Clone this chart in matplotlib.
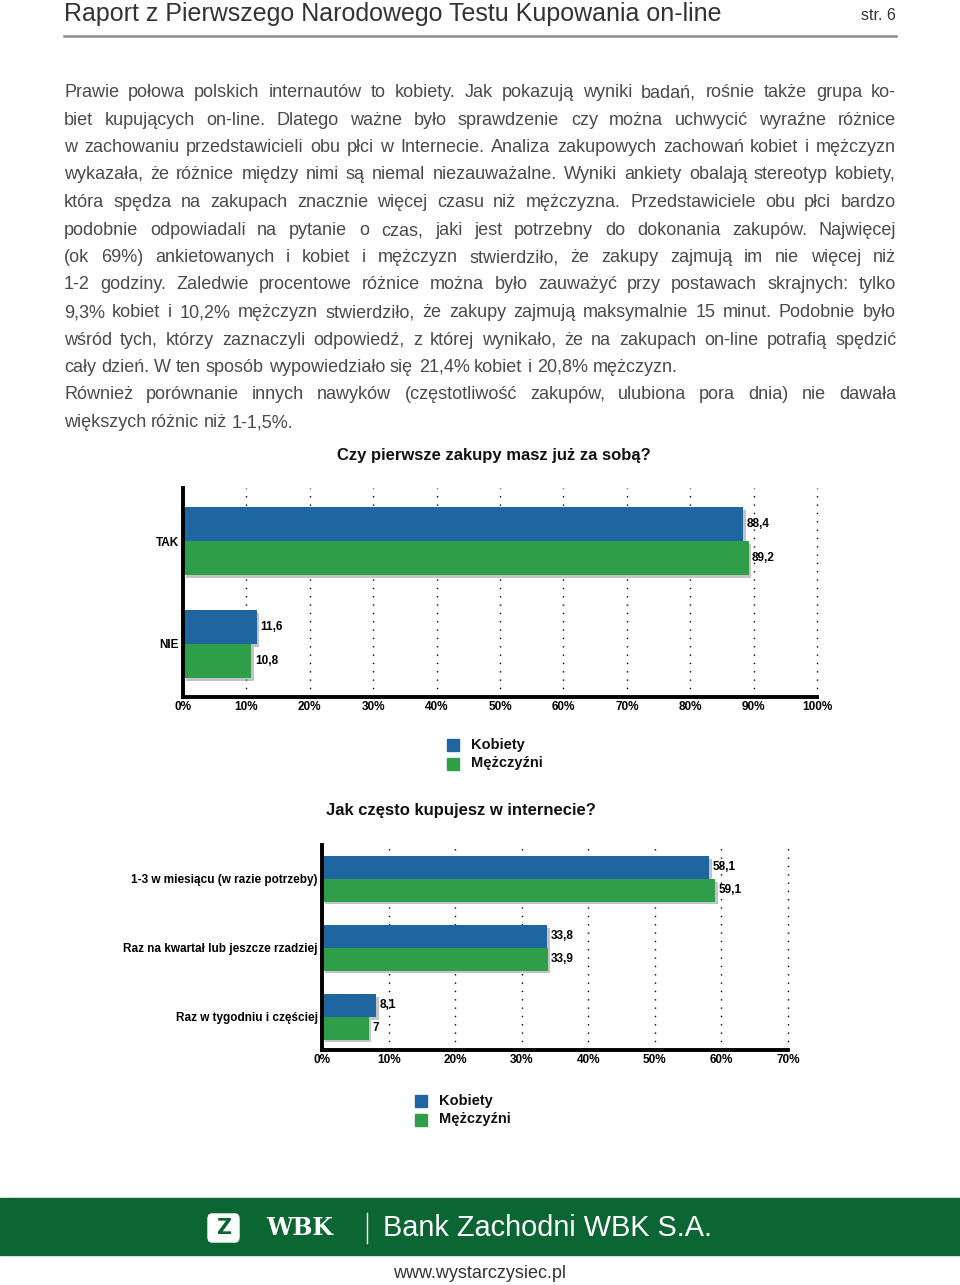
import matplotlib
matplotlib.use("Agg")
import matplotlib.pyplot as plt
import matplotlib.patheffects as pe
from matplotlib.patches import Rectangle, FancyBboxPatch
from matplotlib.lines import Line2D

W, H = 960, 1285

# --- data ---
series = ["Kobiety", "Mężczyźni"]
colors = ["#1f66a0", "#2f9e48"]

q1_title = "Czy pierwsze zakupy masz już za sobą?"
q1_categories = ["TAK", "NIE"]
q1_kobiety = [88.4, 11.6]
q1_mezczyzni = [89.2, 10.8]

q2_title = "Jak często kupujesz w internecie?"
q2_categories = ["1-3 w miesiącu (w razie potrzeby)", "Raz na kwartał lub jeszcze rzadziej",
                 "Raz w tygodniu i częściej"]
q2_kobiety = [58.1, 33.8, 8.1]
q2_mezczyzni = [59.1, 33.9, 7.0]

header = "Raport z Pierwszego Narodowego Testu Kupowania on-line"
page = "str. 6"

# (text, justified?)
paragraph = [
    ("Prawie połowa polskich internautów to kobiety. Jak pokazują wyniki badań, rośnie także grupa ko-", True),
    ("biet kupujących on-line. Dlatego ważne było sprawdzenie czy można uchwycić wyraźne różnice", True),
    ("w zachowaniu przedstawicieli obu płci w Internecie. Analiza zakupowych zachowań kobiet i mężczyzn", True),
    ("wykazała, że różnice między nimi są niemal niezauważalne. Wyniki ankiety obalają stereotyp kobiety,", True),
    ("która spędza na zakupach znacznie więcej czasu niż mężczyzna. Przedstawiciele obu płci bardzo", True),
    ("podobnie odpowiadali na pytanie o czas, jaki jest potrzebny do dokonania zakupów. Najwięcej", True),
    ("(ok 69%) ankietowanych i kobiet i mężczyzn stwierdziło, że zakupy zajmują im nie więcej niż", True),
    ("1-2 godziny. Zaledwie procentowe różnice można było zauważyć przy postawach skrajnych: tylko", True),
    ("9,3% kobiet i 10,2% mężczyzn stwierdziło, że zakupy zajmują maksymalnie 15 minut. Podobnie było", True),
    ("wśród tych, którzy zaznaczyli odpowiedź, z której wynikało, że na zakupach on-line potrafią spędzić", True),
    ("cały dzień. W ten sposób wypowiedziało się 21,4% kobiet i 20,8% mężczyzn.", False),
    ("Również porównanie innych nawyków (częstotliwość zakupów, ulubiona pora dnia) nie dawała", True),
    ("większych różnic niż 1-1,5%.", False),
]

BODY_FONT = "Liberation Sans"
SANS = "Liberation Sans"
BODY_SIZE = 13.0


def fx(px):
    return px / W


def fy(py):
    return 1 - py / H


fig = plt.figure(figsize=(W / 100, H / 100), dpi=100)
renderer = fig.canvas.get_renderer()


def text_width(s):
    t = fig.text(0, 0, s, family=BODY_FONT, fontsize=BODY_SIZE)
    w = t.get_window_extent(renderer).width
    t.remove()
    return w


# header
fig.text(fx(64), fy(14), header, family=SANS, fontsize=18, color="#333333",
         va="center", ha="left")
fig.text(fx(896), fy(16), page, family=SANS, fontsize=11.5, color="#333333",
         va="center", ha="right")
fig.add_artist(Line2D([fx(64), fx(896)], [fy(36), fy(36)], color="#8a8a8a", lw=1.8))

# body text, justified: one Text per word, all on a whole-pixel baseline
x0, x1 = 64, 896
space_w = text_width("a a") - text_width("aa")
y = 91
for line, justify in paragraph:
    words = line.split(" ")
    base_y = round(H - (y + 6)) / H
    texts = [fig.text(0, base_y, w, family=BODY_FONT, fontsize=BODY_SIZE,
                      color="#4a4a4a", va="baseline", ha="left") for w in words]
    widths = [t.get_window_extent(renderer).width for t in texts]
    if justify and len(words) > 1:
        gap = (x1 - x0 - sum(widths)) / (len(words) - 1)
    else:
        gap = space_w
    x = x0
    for t, w in zip(texts, widths):
        t.set_x(round(x) / W)
        x += w + gap
    y += 27.5

shadow = [pe.SimplePatchShadow(offset=(2, -2), shadow_rgbFace="#888888", alpha=0.5), pe.Normal()]


def bar_chart(box, title, title_xy, cats, vals_k, vals_m, xmax, bar_h, ylim, legend_xy):
    left, top, right, bottom = box
    ax = fig.add_axes([fx(left), fy(bottom), (right - left) / W, (bottom - top) / H])
    pos = list(range(len(cats)))
    for vals, off, col in ((vals_k, -bar_h / 2, colors[0]), (vals_m, bar_h / 2, colors[1])):
        bars = ax.barh([p + off for p in pos], vals, height=bar_h, color=col, zorder=3)
        for b, v in zip(bars, vals):
            b.set_path_effects(shadow)
            ax.annotate(f"{v:g}".replace(".", ","), (v, b.get_y() + b.get_height() / 2),
                        xytext=(2.5, 0), textcoords="offset points", va="center", ha="left",
                        family=SANS, fontweight="bold", fontsize=8.5, zorder=4)
    ax.set_xlim(0, xmax)
    ax.set_ylim(*ylim)
    ax.set_xticks(range(0, xmax + 1, 10))
    ax.set_xticklabels([f"{v}%" for v in range(0, xmax + 1, 10)], family=SANS,
                       fontweight="bold", fontsize=8.5)
    ax.set_yticks(pos)
    ax.set_yticklabels(cats, family=SANS, fontweight="bold", fontsize=8.5)
    ax.tick_params(length=0, pad=3)
    ax.grid(axis="x", color="black", linestyle=(0, (1, 5)), linewidth=1.0, zorder=1)
    for gl in ax.get_xgridlines():
        gl.set_clip_on(False)
    for s in ("top", "right"):
        ax.spines[s].set_visible(False)
    for s in ("left", "bottom"):
        ax.spines[s].set_linewidth(2.8)
        ax.spines[s].set_zorder(5)
    ax.set_facecolor("none")

    fig.text(fx(title_xy[0]), fy(title_xy[1]), title, family=SANS,
             fontweight="bold", fontsize=12, ha="center", va="center", color="#111111")

    lx, ly = legend_xy
    for i, (name, col) in enumerate(zip(series, colors)):
        yy = ly + i * 18.5
        fig.add_artist(Rectangle((fx(lx), fy(yy + 6)), 12 / W, 12 / H, color=col,
                                 transform=fig.transFigure))
        fig.text(fx(lx + 24), fy(yy), name, family=SANS,
                 fontweight="bold", fontsize=10.5, ha="left", va="center", color="#111111")
    return ax


bar_chart((183, 488, 817, 697), q1_title, (494, 455), q1_categories, q1_kobiety, q1_mezczyzni,
          100, 0.33, (1.515, -0.515), (447, 745))
bar_chart((322, 845, 788, 1050), q2_title, (461, 810), q2_categories, q2_kobiety, q2_mezczyzni,
          70, 0.33, (2.48, -0.49), (415, 1101))

# footer band
fig.add_artist(Rectangle((0, fy(1255)), 1, (1255 - 1198) / H, color="#0b6634",
                         transform=fig.transFigure))
fig.add_artist(FancyBboxPatch((fx(208), fy(1242)), 31 / W, 28 / H,
                              boxstyle="round,pad=0,rounding_size=0.004", color="white",
                              transform=fig.transFigure))
fig.text(fx(223.5), fy(1228), "Z", family="DejaVu Sans", fontweight="bold", fontsize=15,
         color="#0b6634", ha="center", va="center")
fig.text(fx(300), fy(1228), "WBK", family="DejaVu Serif", fontweight="heavy", fontsize=17,
         color="white", ha="center", va="center")
fig.add_artist(Line2D([fx(367), fx(367)], [fy(1213), fy(1243)], color="white", lw=1))
fig.text(fx(383), fy(1228), "Bank Zachodni WBK S.A.", family=SANS, fontsize=20.8,
         color="white", ha="left", va="center")
fig.text(fx(480), fy(1274), "www.wystarczysiec.pl", family=SANS, fontsize=13,
         color="#333333", ha="center", va="center")

fig.savefig("out.png", dpi=100)
